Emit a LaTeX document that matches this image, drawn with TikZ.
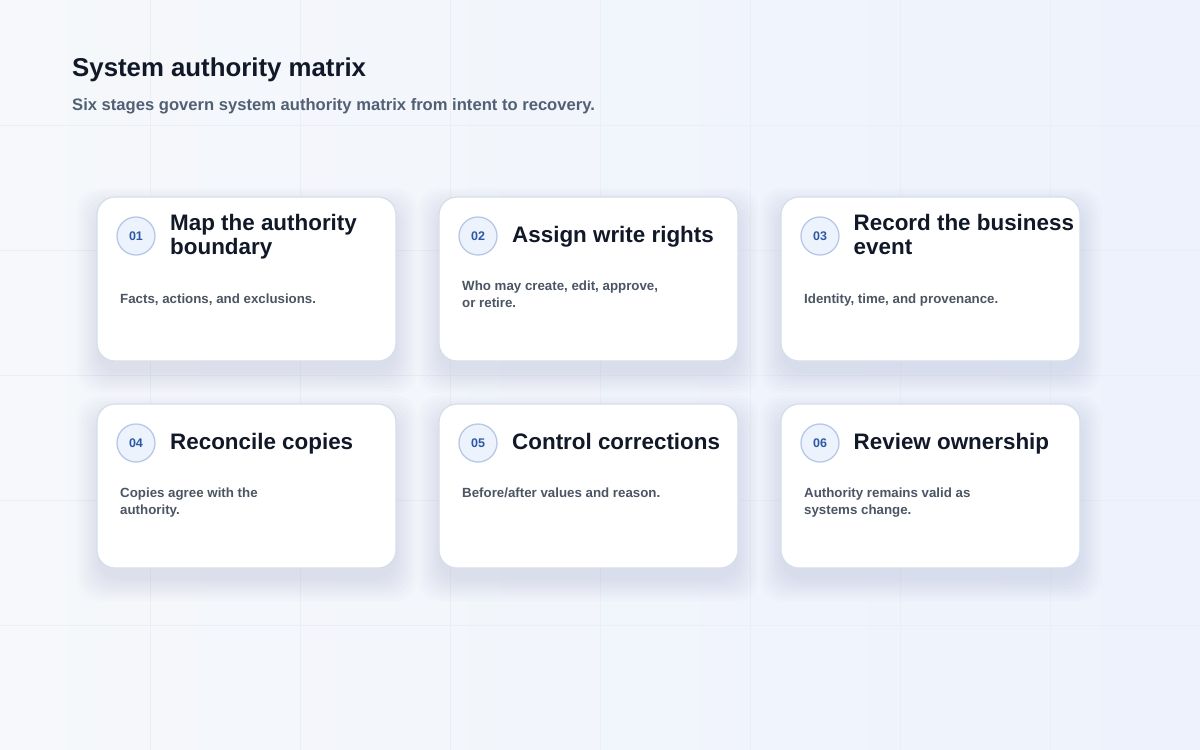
\documentclass[tikz,border=0pt]{standalone}
\usepackage{fontspec}
\setmainfont{Liberation Sans}

\definecolor{bgleft}{HTML}{F6F8FB}
\definecolor{bgright}{HTML}{EDF2FC}
\definecolor{gridline}{HTML}{EAEEF5}
\definecolor{cardline}{HTML}{D5DEEA}
\definecolor{shadowtint}{HTML}{7F8CB5}
\definecolor{badgefill}{HTML}{EDF3FC}
\definecolor{badgeline}{HTML}{B7C8E6}
\definecolor{badgetext}{HTML}{2D58A4}
\definecolor{titleink}{HTML}{111827}
\definecolor{subink}{HTML}{526075}
\definecolor{noteink}{HTML}{4B5563}

\begin{document}
\begin{tikzpicture}[x=1pt,y=-1pt,
  card/.style={draw=cardline, line width=1.2pt, fill=white, rounded corners=18pt,
    minimum width=299pt, minimum height=164pt, inner sep=0pt},
  cardshadow/.style={fill=shadowtint, opacity=0.022, rounded corners=22pt},
  badge/.style={circle, draw=badgeline, line width=1.3pt, fill=badgefill, minimum size=38pt,
    inner sep=0pt, text=badgetext, font=\bfseries\fontsize{12.5}{14}\selectfont},
  stagetitle/.style={anchor=north west, inner sep=0pt, align=left, text=titleink,
    font=\bfseries\fontsize{22.4}{24.5}\selectfont},
  stagenote/.style={anchor=north west, inner sep=0pt, align=left, text=noteink,
    font=\bfseries\fontsize{13.3}{17}\selectfont}]

\useasboundingbox (0,0) rectangle (1200,750);

% Background
\fill [shading=axis, shading angle=-60, left color=bgleft, right color=bgright] (0,0) rectangle (1200,750);
\foreach \gx in {150,300,...,1050} \draw [gridline, line width=1pt] (\gx,0) -- (\gx,750);
\foreach \gy in {125,250,...,625} \draw [gridline, line width=1pt] (0,\gy) -- (1200,\gy);

% Soft shadows under the cards
\foreach \cx/\cy in {246.5/279, 588.5/279, 930.5/279, 246.5/486, 588.5/486, 930.5/486}
  \foreach \s in {0,3,...,21}
    \fill [cardshadow] (\cx-149.5-\s,\cy-70-\s) rectangle (\cx+149.5+\s,\cy+94+\s);

% Heading
\node [anchor=base west, inner sep=0pt, text=titleink, font=\bfseries\fontsize{25.8}{30}\selectfont] (heading) at (72,76) {System authority matrix};
\node [anchor=base west, inner sep=0pt, text=subink, font=\bfseries\fontsize{16.6}{19}\selectfont] (subheading) at (72,110) {Six stages govern system authority matrix from intent to recovery.};

%Row 1
\node [card] (card1) at (246.5,279) {};
\node [badge] (badge1) at (136,236) {01};
\node [stagetitle] (title1) at (170,213.6) {Map the authority\\boundary};
\node [stagenote] (note1) at (120,293.3) {Facts, actions, and exclusions.};

\node [card] (card2) at (588.5,279) {};
\node [badge] (badge2) at (478,236) {02};
\node [stagetitle] (title2) at (512,225.6) {Assign write rights};
\node [stagenote] (note2) at (462,280.3) {Who may create, edit, approve,\\or retire.};

\node [card] (card3) at (930.5,279) {};
\node [badge] (badge3) at (820,236) {03};
\node [stagetitle] (title3) at (853.5,213.6) {Record the business\\event};
\node [stagenote] (note3) at (804,293.3) {Identity, time, and provenance.};

%Row 2
\node [card] (card4) at (246.5,486) {};
\node [badge] (badge4) at (136,443) {04};
\node [stagetitle] (title4) at (170,432.6) {Reconcile copies};
\node [stagenote] (note4) at (120,487.3) {Copies agree with the\\authority.};

\node [card] (card5) at (588.5,486) {};
\node [badge] (badge5) at (478,443) {05};
\node [stagetitle] (title5) at (512,432.6) {Control corrections};
\node [stagenote] (note5) at (462,487.3) {Before/after values and reason.};

\node [card] (card6) at (930.5,486) {};
\node [badge] (badge6) at (820,443) {06};
\node [stagetitle] (title6) at (853.5,432.6) {Review ownership};
\node [stagenote] (note6) at (804,487.3) {Authority remains valid as\\systems change.};
\end{tikzpicture}
\end{document}
